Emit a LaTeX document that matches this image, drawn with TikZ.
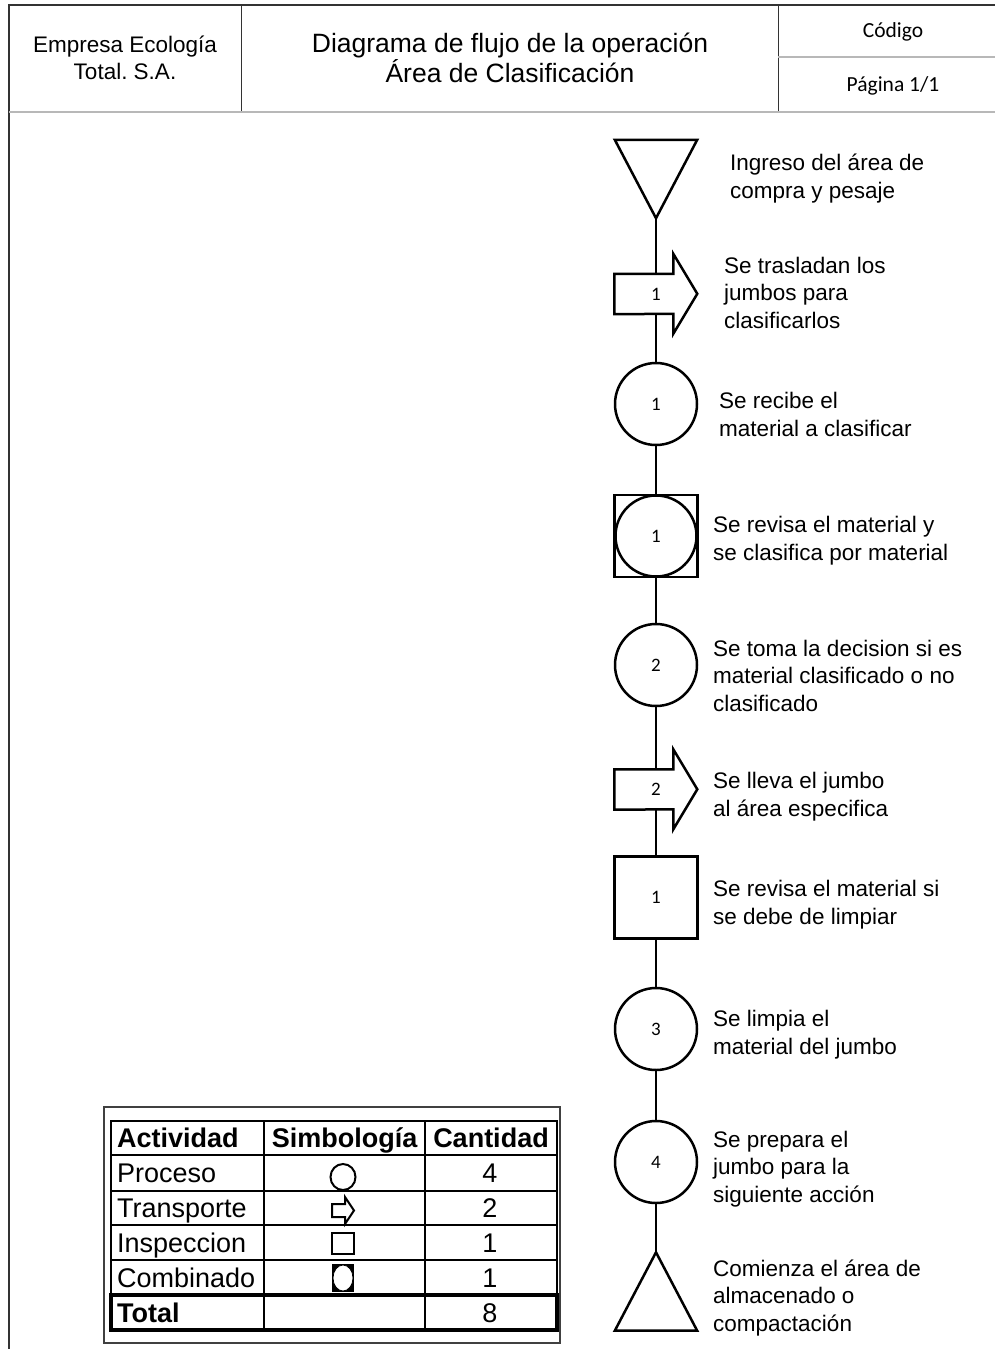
\documentclass[tikz,border=0pt]{standalone}
\usepackage{fontspec}
\setmainfont{Liberation Sans}
\newfontfamily\calibri{Carlito}
\usetikzlibrary{calc,backgrounds}
\frenchspacing
\begin{document}
\begin{tikzpicture}[x=1pt,y=-1pt,
  frame/.style={line width=1.4pt, draw=black!80},
  rule/.style={line width=2pt, draw=black!28},
  link/.style={line width=2.5pt},
  shp/.style={draw, line width=2.5pt, fill=white, inner sep=0pt,
    font=\calibri\fontsize{19}{21}\selectfont},
  circ/.style={shp, circle, minimum size=82pt},
  sq/.style={shp, rectangle, minimum width=83pt, minimum height=82pt},
  tribox/.style={inner sep=0pt, minimum width=82pt, minimum height=78pt},
  arrbox/.style={inner sep=0pt, minimum width=83pt, minimum height=40pt,
    font=\calibri\fontsize{19}{21}\selectfont},
  desc/.style={anchor=west, align=left, inner sep=0pt,
    font=\fontsize{22.5}{27.5}\selectfont},
  grid/.style={line width=2pt, draw=black},
  cellL/.style={anchor=west, inner sep=0pt, text height=19.5pt, text depth=0pt,
    font=\fontsize{27}{30}\selectfont},
  cellC/.style={inner sep=0pt, text height=19.5pt, text depth=0pt,
    font=\fontsize{27}{30}\selectfont},
  bold/.style={font=\bfseries\fontsize{27}{30}\selectfont},
  sym/.style={line width=2pt, draw=black},
]
\useasboundingbox (0,0) rectangle (995,1349);

% ---------- header ----------
\draw[frame] (9,1349) -- (9,5) -- (995,5);
\draw[frame, line width=1pt] (241,5) -- (241,112);
\draw[frame, line width=1pt] (778,5) -- (778,112);
\draw[rule] (778,57) -- (995,57);
\draw[rule] (9,112) -- (995,112);
\node[align=center, inner sep=0pt, font=\fontsize{22.5}{27}\selectfont] (h1) at (125,58) {Empresa Ecología\\Total. S.A.};
\node[align=center, inner sep=0pt, font=\fontsize{26.5}{30}\selectfont] (h2) at (510,58) {Diagrama de flujo de la operación\\Área de Clasificación};
\node[inner sep=0pt, font=\calibri\fontsize{21.5}{24}\selectfont] (h3) at (893,32) {Código};
\node[inner sep=0pt, font=\calibri\fontsize{21.5}{24}\selectfont] (h4) at (893,86) {Página 1/1};

% ---------- flow symbols ----------
\node[tribox] (s0) at (656,179) {};
\node[arrbox] (a1) at (656,294) {1};
\node[circ] (c1) at (656,404) {1};
\node[sq, path picture={\draw[line width=2.5pt] (path picture bounding box.center) circle[radius=40.5pt];}] (m1) at (656,536) {1};
\node[circ] (c2) at (656,665) {2};
\node[arrbox] (a2) at (656,789.5) {2};
\node[sq] (q1) at (656,897.5) {1};
\node[circ] (c3) at (656,1029) {3};
\node[circ] (c4) at (656,1162) {4};
\node[tribox] (s9) at (656,1291.5) {};

\draw[link, fill=white, line join=miter] (s0.north west) -- (s0.north east) -- (s0.south) -- cycle;
\draw[link, fill=white, line join=miter] (s9.south west) -- (s9.south east) -- (s9.north) -- cycle;
\begin{scope}[on background layer]
  \foreach \a in {a1,a2}
    \draw[link, fill=white, line join=miter] (\a.north west) -- ++(59,0) -- ++(0,-20) -- ++(24,40)
      -- ++(-24,40) -- ++(0,-20) -- (\a.south west) -- cycle;
\end{scope}

% ---------- connectors ----------
\draw[link] (s0.south) -- (a1.north);
\draw[link] (a1.south) -- (c1.north);
\draw[link] (c1.south) -- (m1.north);
\draw[link] (m1.south) -- (c2.north);
\draw[link] (c2.south) -- (a2.north);
\draw[link] (a2.south) -- (q1.north);
\draw[link] (q1.south) -- (c3.north);
\draw[link] (c3.south) -- (c4.north);
\draw[link] (c4.south) -- (s9.north);

% ---------- descriptions ----------
\node[desc] (t0) at (730,178.5) {Ingreso del área de\\compra y pesaje};
\node[desc] (t1) at (724,292.5) {Se trasladan los\\jumbos para\\clasificarlos};
\node[desc] (t2) at (719,414.5) {Se recibe el\\material a clasificar};
\node[desc] (t3) at (713,540.5) {Se revisa el material y\\se clasifica por material};
\node[desc] (t4) at (713,675.5) {Se toma la decision si es\\material clasificado o no\\clasificado};
\node[desc] (t5) at (713,796.5) {Se lleva el jumbo\\al área especifica};
\node[desc] (t6) at (713,904.5) {Se revisa el material si\\se debe de limpiar};
\node[desc] (t7) at (713,1034.5) {Se limpia el\\material del jumbo};
\node[desc] (t8) at (713,1169) {Se prepara el\\jumbo para la\\siguiente acción};
\node[desc] (t9) at (713,1298) {Comienza el área de\\almacenado o\\compactación};

% ---------- summary table ----------
\draw[line width=1.4pt, draw=black!75] (104,1107) rectangle (560,1343);
\draw[grid] (111,1121) rectangle (557,1330);
\foreach \yy in {1155,1191,1225,1260}
  \draw[grid] (111,\yy) -- (557,\yy);
\draw[grid] (264,1121) -- (264,1330);
\draw[grid] (425,1121) -- (425,1330);
\draw[line width=3.2pt] (111,1295) rectangle (557,1330);

\node[cellL, bold] (k0) at (117,1138) {Actividad};
\node[cellC, bold] (k1) at (344.5,1138) {Simbología};
\node[cellC, bold] (k2) at (491,1138) {Cantidad};

\node[cellL] (p0) at (117,1173) {Proceso};
\node[cellL] (p1) at (117,1208) {Transporte};
\node[cellL] (p2) at (117,1242.5) {Inspeccion};
\node[cellL] (p3) at (117,1277.5) {Combinado};
\node[cellL, bold] (p4) at (117,1312.5) {Total};

\node[cellC] (n0) at (490,1173) {4};
\node[cellC] (n1) at (490,1208) {2};
\node[cellC] (n2) at (490,1242.5) {1};
\node[cellC] (n3) at (490,1277.5) {1};
\node[cellC] (n4) at (490,1312.5) {8};

% table symbols
\draw[sym] (343,1177) ellipse[x radius=12.5pt, y radius=13pt];
\draw[sym, line join=miter] (332,1204) -- (345,1204) -- (345,1197) -- (354,1210.5)
  -- (345,1224) -- (345,1217) -- (332,1217) -- cycle;
\draw[sym] (332,1233) rectangle (354,1254);
\fill[black] (332,1264) rectangle (354,1292);
\draw[fill=white, line width=0.8pt] (343,1278) ellipse[x radius=10pt, y radius=13pt];
\end{tikzpicture}
\end{document}
